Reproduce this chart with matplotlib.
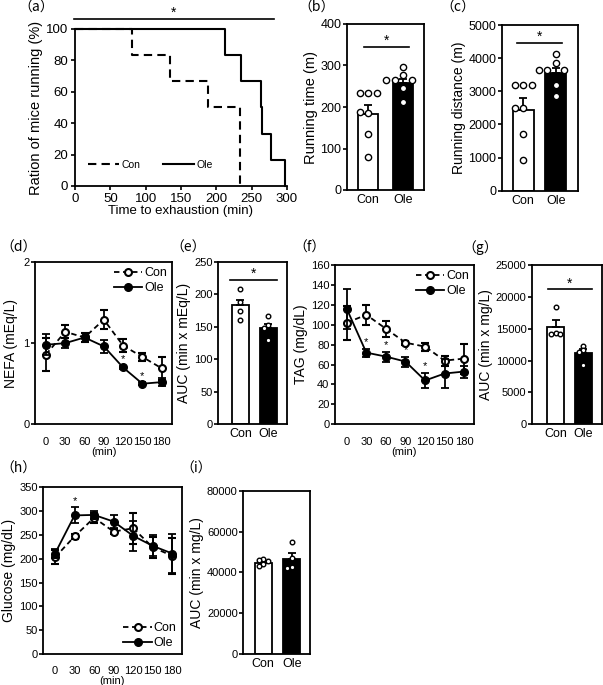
import numpy as np
import matplotlib
matplotlib.use("Agg")
import matplotlib.pyplot as plt

plt.rcParams['font.family'] = ['Liberation Sans', 'DejaVu Sans']
plt.rcParams['axes.linewidth'] = 1.3

# ---- data ----
groups = ["Con", "Ole"]
minutes = [0, 30, 60, 90, 120, 150, 180]

# (a) Kaplan-Meier
km_con_t = [0, 80, 134, 188, 234]
km_con_s = [100, 83.3, 66.7, 50, 0]
km_ole_t = [0, 212, 235, 263, 265, 277, 297]
km_ole_s = [100, 83.3, 66.7, 50, 33.3, 16.7, 0]

# (b) running time
time_mean = [182, 257]
time_sem = [23, 10]
time_con_pts = [233, 233, 233, 186, 188, 134, 80]
time_ole_pts = [297, 277, 265, 265, 265, 245, 211]

# (c) running distance
dist_mean = [2440, 3545]
dist_sem = [350, 150]
dist_con_pts = [3190, 3190, 3190, 2490, 2490, 1700, 925]
dist_ole_pts = [4130, 3850, 3650, 3650, 3650, 3190, 2860]

# (d) NEFA
nefa_con = [0.86, 1.14, 1.07, 1.29, 0.97, 0.83, 0.69]
nefa_con_err = [0.2, 0.08, 0.06, 0.12, 0.08, 0.05, 0.14]
nefa_ole = [0.98, 1.0, 1.07, 0.96, 0.70, 0.50, 0.52]
nefa_ole_err = [0.13, 0.06, 0.05, 0.08, 0.02, 0.02, 0.05]
nefa_sig = [120, 150]

# (e) NEFA AUC
nefa_auc_mean = [183, 148]
nefa_auc_sem = [9, 7]
nefa_auc_con = [208, 188, 174, 161]
nefa_auc_ole = [167, 153, 149, 130]

# (f) TAG
tag_con = [102, 110, 96, 82, 78, 64, 66]
tag_con_err = [17, 10, 8, 2, 4, 5, 15]
tag_ole = [116, 72, 68, 63, 44, 51, 53]
tag_ole_err = [20, 4, 5, 5, 8, 15, 6]
tag_sig = [30, 60, 90, 120]

# (g) TAG AUC
tag_auc_mean = [15300, 11150]
tag_auc_sem = [1100, 650]
tag_auc_con = [18460, 14280, 14100, 14200]
tag_auc_ole = [12340, 11660, 11400, 9310]

# (h) glucose
glu_con = [203, 247, 286, 257, 264, 224, 206]
glu_con_err = [15, 5, 10, 5, 32, 22, 38]
glu_ole = [211, 291, 292, 278, 248, 227, 211]
glu_ole_err = [10, 17, 8, 13, 31, 22, 40]
glu_sig = [30]

# (i) glucose AUC
glu_auc_mean = [44400, 46500]
glu_auc_sem = [1000, 3000]
glu_auc_con = [46400, 46000, 45500, 44200, 43200]
glu_auc_ole = [55000, 46900, 42400, 42300]

W, H = 603, 685
fig = plt.figure(figsize=(W / 100, H / 100), dpi=100)


def add_ax(l, t, r, b):
    return fig.add_axes([l / W, 1 - b / H, (r - l) / W, (b - t) / H])


def style(ax):
    ax.tick_params(axis='y', direction='out', length=3, width=1.2, labelsize=8, pad=1)
    ax.tick_params(axis='x', length=0, labelsize=8)


def swarm(vals, d_px, ypx, xpx):
    # simple beeswarm: place points so they do not overlap
    placed = []
    offs = []
    cands = [0]
    for k in range(1, 6):
        cands += [-k, k]
    for v in vals:
        y = v * ypx
        for c in cands:
            x = c * d_px
            if all((x - px) ** 2 + (y - py) ** 2 >= (d_px * 0.95) ** 2 for px, py in placed):
                placed.append((x, y))
                offs.append(x / xpx)
                break
    return offs


def bar_panel(ax, means, sems, con_pts, ole_pts, xlim, ylim, width, ms=4.5, d_px=8.5):
    style(ax)
    ax.set_xlim(*xlim)
    ax.set_ylim(*ylim)
    ax.bar([0, 1], means, width=width, color=['white', 'black'],
           edgecolor='black', linewidth=1.3, zorder=2)
    ax.errorbar([0, 1], means, yerr=[[0, 0], sems], fmt='none', ecolor='black',
                elinewidth=1.3, capsize=3, capthick=1.3, zorder=3)
    bb = ax.get_position()
    xpx = bb.width * W / (xlim[1] - xlim[0])
    ypx = bb.height * H / (ylim[1] - ylim[0])
    for i, pts in enumerate([con_pts, ole_pts]):
        offs = swarm(pts, d_px, ypx, xpx)
        ax.scatter(np.array(offs) + i, pts, s=ms ** 2, facecolor='white',
                   edgecolor='black', linewidths=1.0, zorder=4, clip_on=False)
    ax.set_xticks([0, 1])
    ax.set_xticklabels(groups, fontsize=9)
    ax.tick_params(axis='x', pad=3)


def sig_line(ax, x0, x1, y, star_size=10):
    ax.plot([x0, x1], [y, y], color='black', lw=1.2, clip_on=False)
    ax.annotate('*', (0.5 * (x0 + x1), y), xytext=(0, -1), textcoords='offset points',
                ha='center', va='bottom', fontsize=star_size, annotation_clip=False)


def line_panel(ax, con, con_err, ole, ole_err, xlim, ylim, yticks, sig, leg_loc):
    style(ax)
    ax.errorbar(minutes, con, yerr=con_err, color='black', ls=(0, (3, 2)), lw=1.3,
                marker='o', ms=5, mfc='white', mec='black', mew=1.5,
                capsize=3, elinewidth=1.3, capthick=1.3, label='Con', zorder=3)
    ax.errorbar(minutes, ole, yerr=ole_err, color='black', ls='-', lw=1.3,
                marker='o', ms=5.5, mfc='black', mec='black',
                capsize=3, elinewidth=1.3, capthick=1.3, label='Ole', zorder=4)
    for t in sig:
        i = minutes.index(t)
        ax.annotate('*', (t, ole[i] + ole_err[i]), xytext=(0, 1), textcoords='offset points',
                    ha='center', va='bottom', fontsize=8)
    ax.set_xlim(*xlim)
    ax.set_ylim(*ylim)
    ax.set_yticks(yticks)
    ax.set_xticks(minutes)
    ax.tick_params(axis='x', pad=9)
    ax.set_xlabel('(min)', fontsize=8, labelpad=0)
    h, l = ax.get_legend_handles_labels()
    h = [x[0] for x in h]
    ax.legend(h, l, loc=leg_loc, frameon=False, fontsize=9, handlelength=2.3,
              handletextpad=0.15, labelspacing=0.25, borderaxespad=0.2, borderpad=0.2)


def panel_label(x, y, s):
    fig.text(x / W, 1 - y / H, s, fontsize=10, va='center', ha='left',
             family=['Noto Sans CJK JP', 'DejaVu Sans'])


# ---- (a) ----
ax = add_ax(75, 29, 287, 186)
ax.step(km_con_t, km_con_s, where='post', color='black', lw=1.5, ls=(0, (4, 2.5)),
        clip_on=False, label='Con')
ax.step(km_ole_t, km_ole_s, where='post', color='black', lw=1.5, clip_on=False, label='Ole')
ax.set_xlim(0, 300)
ax.set_ylim(0, 100)
ax.spines['top'].set_visible(False)
ax.spines['right'].set_visible(False)
ax.set_xticks(np.arange(0, 301, 50))
ax.set_yticks(np.arange(0, 101, 20))
ax.tick_params(direction='out', length=3, width=1.2, labelsize=9.5, pad=2)
ax.set_xlabel('Time to exhaustion (min)', fontsize=9.5, labelpad=0)
ax.set_ylabel('Ration of mice running (%)', fontsize=10.5, labelpad=2)
ax.legend(loc='center left', bbox_to_anchor=(0.06, 0.134), ncol=2, frameon=False,
          fontsize=7.5, handlelength=3.0, handletextpad=0.2, columnspacing=2.2,
          borderaxespad=0, borderpad=0)
sig_line(ax, -1.5, 281.5, 106.5)

# ---- (b) ----
ax = add_ax(347, 24, 424, 190)
bar_panel(ax, time_mean, time_sem, time_con_pts, time_ole_pts, (-0.6, 1.6), (0, 400), 0.58)
ax.set_yticks(np.arange(0, 401, 100))
ax.tick_params(axis='y', labelsize=9)
ax.set_ylabel('Running time (m)', fontsize=10.5, labelpad=2)
sig_line(ax, -0.11, 1.17, 345)

# ---- (c) ----
ax = add_ax(502, 25, 578, 190.7)
bar_panel(ax, dist_mean, dist_sem, dist_con_pts, dist_ole_pts, (-0.64, 1.67), (0, 5000), 0.64)
ax.set_yticks(np.arange(0, 5001, 1000))
ax.tick_params(axis='y', labelsize=9)
ax.set_ylabel('Running distance (m)', fontsize=10, labelpad=2)
sig_line(ax, -0.19, 1.17, 4466)

# ---- (d) ----
ax = add_ax(35, 262, 172, 424.3)
line_panel(ax, nefa_con, nefa_con_err, nefa_ole, nefa_ole_err, (-17, 196), (0, 2),
           [0, 1, 2], nefa_sig, 'upper right')
ax.set_ylabel('NEFA (mEq/L)', fontsize=10, labelpad=4)

# ---- (e) ----
ax = add_ax(218, 262, 287, 424.3)
bar_panel(ax, nefa_auc_mean, nefa_auc_sem, nefa_auc_con, nefa_auc_ole,
          (-0.8, 1.66), (0, 250), 0.62, ms=3.3, d_px=4.5)
ax.set_yticks(np.arange(0, 251, 50))
ax.set_ylabel('AUC (min x mEq/L)', fontsize=10, labelpad=2)
sig_line(ax, -0.37, 1.3, 223)

# ---- (f) ----
ax = add_ax(335, 265, 474, 424.3)
line_panel(ax, tag_con, tag_con_err, tag_ole, tag_ole_err, (-18, 195), (0, 160),
           np.arange(0, 161, 20), tag_sig, 'upper right')
ax.set_ylabel('TAG (mg/dL)', fontsize=10, labelpad=2)

# ---- (g) ----
ax = add_ax(532, 265, 602, 424.3)
bar_panel(ax, tag_auc_mean, tag_auc_sem, tag_auc_con, tag_auc_ole,
          (-0.845, 1.67), (0, 25000), 0.63, ms=3.3, d_px=4.5)
ax.set_yticks(np.arange(0, 25001, 5000))
ax.set_ylabel('AUC (min x mg/L)', fontsize=10, labelpad=2)
sig_line(ax, -0.27, 1.3, 21230)

# ---- (h) ----
ax = add_ax(43.3, 487.3, 181.7, 654)
line_panel(ax, glu_con, glu_con_err, glu_ole, glu_ole_err, (-18, 194.5), (0, 350),
           np.arange(0, 351, 50), glu_sig, 'lower right')
ax.set_ylabel('Glucose (mg/dL)', fontsize=10, labelpad=2)

# ---- (i) ----
ax = add_ax(243.3, 490.7, 310, 654)
bar_panel(ax, glu_auc_mean, glu_auc_sem, glu_auc_con, glu_auc_ole,
          (-0.7, 1.64), (0, 80000), 0.6, ms=3.3, d_px=4.5)
ax.set_yticks(np.arange(0, 80001, 20000))
ax.set_ylabel('AUC (min x mg/L)', fontsize=10, labelpad=2)

for x, y, s in [(18, 8, '（a）'), (298, 8, '（b）'), (440, 8, '（c）'),
                (0, 248, '（d）'), (170, 248, '（e）'), (293, 248, '（f）'),
                (462, 248, '（g）'), (0, 469, '（h）'), (180, 469, '（i）')]:
    panel_label(x, y, s)

fig.savefig('out.png', dpi=100)
